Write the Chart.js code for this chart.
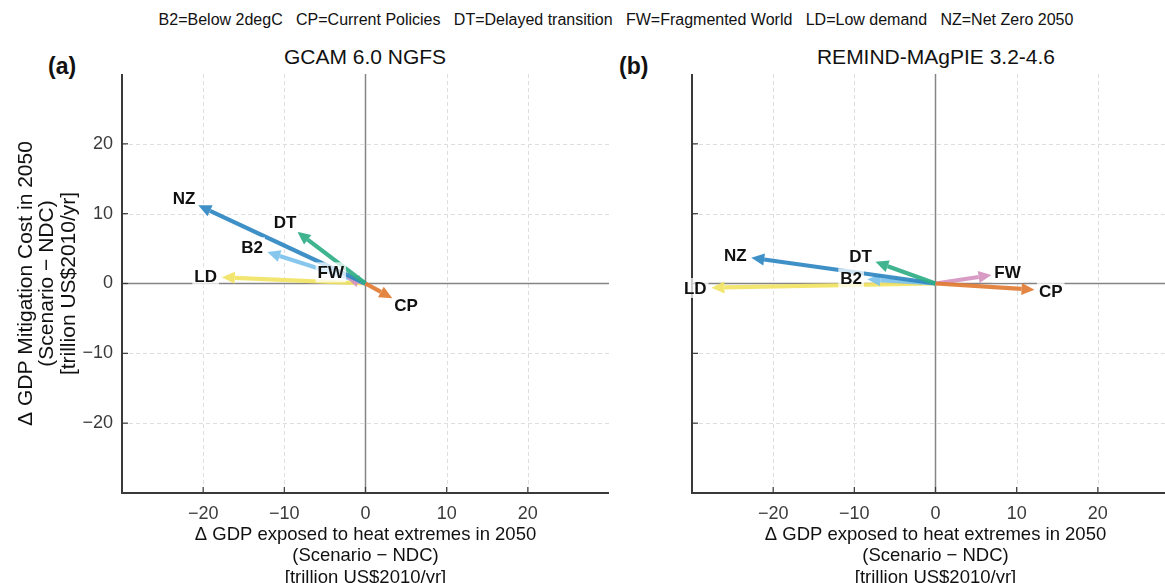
<!DOCTYPE html>
<html>
<head>
<meta charset="utf-8">
<script src="https://cdn.jsdelivr.net/npm/chart.js@4.4.1/dist/chart.umd.min.js"></script>
<style>
  html, body { margin: 0; padding: 0; background: #fff; overflow: hidden; }
  body { width: 1165px; height: 583px; position: relative; font-family: "Liberation Sans", Arial, sans-serif; }
  .panel { position: absolute; top: 0; width: 620px; height: 600px; }
  .txt { position: absolute; white-space: pre; color: #111; line-height: 1; }
  #legend { left: 0; width: 1232px; top: 12px; text-align: center; font-size: 16px; }
  .tag { font-weight: bold; font-size: 23px; top: 55px; }
  .ptitle { font-size: 21px; top: 46px; width: 400px; text-align: center; }
</style>
</head>
<body>
<div id="legend" class="txt">B2=Below 2degC   CP=Current Policies   DT=Delayed transition   FW=Fragmented World   LD=Low demand   NZ=Net Zero 2050</div>
<div class="txt tag" style="left:48px">(a)</div>
<div class="txt tag" style="left:619px">(b)</div>
<div class="txt ptitle" style="left:165px">GCAM 6.0 NGFS</div>
<div class="txt ptitle" style="left:736px">REMIND-MAgPIE 3.2-4.6</div>
<div class="panel" style="left:0px"><canvas id="chartA"></canvas></div>
<div class="panel" style="left:570px"><canvas id="chartB"></canvas></div>
<script>
// scenario order as listed in the legend line
const scenarios = ["B2", "CP", "DT", "FW", "LD", "NZ"];
const scenarioColors = ["#7ec2ec", "#e27c33", "#2fae86", "#d493bf", "#f1e464", "#2f87c1"];
// drawing order (later on top)
const drawOrder = ["LD", "B2", "FW", "NZ", "DT", "CP"];

// GCAM 6.0 NGFS: (Δ GDP exposed, Δ mitigation cost), trillion US$2010/yr
const gcamX = [-12.1, 3.3, -8.4, -2.4, -17.7, -20.6];
const gcamY = [4.5, -2.1, 7.4, 0.9, 0.9, 11.2];
// REMIND-MAgPIE 3.2-4.6
const remindX = [-8.4, 12.2, -7.4, 6.9, -27.6, -22.7];
const remindY = [0.6, -0.9, 3.1, 1.2, -0.6, 3.7];

const tickValues = [-20, -10, 0, 10, 20];
const axisMin = -30;
const axisMax = 30;

const xTitle = ["\u0394 GDP exposed to heat extremes in 2050", "(Scenario \u2212 NDC)", "[trillion US$2010/yr]"];
const yTitle = ["\u0394 GDP Mitigation Cost in 2050", "(Scenario \u2212 NDC)", "[trillion US$2010/yr]"];

const FONT = "'Liberation Sans', Arial, sans-serif";

function fmtTick(v) {
  return v < 0 ? "\u2212" + Math.abs(v) : String(v);
}

// grid, zero lines, spines and inward ticks
const framePlugin = {
  id: "frame",
  beforeDatasetsDraw(chart) {
    const { ctx, chartArea: a, scales: { x, y } } = chart;
    const line = (x1, y1, x2, y2) => {
      ctx.beginPath();
      ctx.moveTo(x1, y1);
      ctx.lineTo(x2, y2);
      ctx.stroke();
    };
    ctx.save();
    ctx.strokeStyle = "#dedede";
    ctx.lineWidth = 1;
    ctx.setLineDash([4, 3]);
    tickValues.forEach((v) => {
      if (v === 0) return;
      const px = Math.round(x.getPixelForValue(v)) + 0.5;
      const py = Math.round(y.getPixelForValue(v)) + 0.5;
      line(px, a.top, px, a.bottom);
      line(a.left, py, a.right, py);
    });
    ctx.setLineDash([]);
    ctx.strokeStyle = "#858585";
    ctx.lineWidth = 1.5;
    const x0 = x.getPixelForValue(0);
    const y0 = y.getPixelForValue(0);
    line(x0, a.top, x0, a.bottom);
    line(a.left, y0, a.right, y0);
    ctx.strokeStyle = "#3a3a3a";
    ctx.lineWidth = 2;
    line(a.left, a.top, a.left, a.bottom + 1);
    line(a.left - 1, a.bottom, a.right, a.bottom);
    ctx.lineWidth = 1.2;
    tickValues.forEach((v) => {
      const px = x.getPixelForValue(v);
      const py = y.getPixelForValue(v);
      line(px, a.bottom, px, a.bottom - 6);
      line(a.left, py, a.left + 6, py);
    });
    ctx.restore();
  },
  afterDatasetsDraw(chart) {
    const { ctx, scales: { x, y } } = chart;
    ctx.save();
    drawOrder.forEach((name) => {
      const i = scenarios.indexOf(name);
      const meta = chart.getDatasetMeta(i);
      const p0 = meta.data[0], p1 = meta.data[1];
      const dx = p1.x - p0.x, dy = p1.y - p0.y;
      const len = Math.hypot(dx, dy);
      const ux = dx / len, uy = dy / len;
      const headLen = 13, headHalf = 6;
      const bx = p1.x - ux * headLen, by = p1.y - uy * headLen;
      ctx.globalAlpha = 0.92;
      ctx.strokeStyle = scenarioColors[i];
      ctx.fillStyle = scenarioColors[i];
      ctx.lineWidth = 4.2;
      ctx.lineCap = "butt";
      ctx.beginPath();
      ctx.moveTo(p0.x, p0.y);
      ctx.lineTo(bx, by);
      ctx.stroke();
      ctx.beginPath();
      ctx.moveTo(p1.x, p1.y);
      ctx.lineTo(bx - uy * headHalf, by + ux * headHalf);
      ctx.lineTo(bx + uy * headHalf, by - ux * headHalf);
      ctx.closePath();
      ctx.fill();
    });
    // labels just beyond each arrow tip, with a light white box
    ctx.globalAlpha = 1;
    ctx.font = "bold 17px " + FONT;
    ctx.textAlign = "center";
    ctx.textBaseline = "middle";
    const ds = chart.data.datasets;
    drawOrder.forEach((name) => {
      const i = scenarios.indexOf(name);
      const tip = ds[i].data[1];
      const r = Math.hypot(tip.x, tip.y);
      const lx = x.getPixelForValue(tip.x + 2 * tip.x / r);
      const ly = y.getPixelForValue(tip.y + 2 * tip.y / r);
      const w = ctx.measureText(name).width;
      ctx.fillStyle = "rgba(255,255,255,0.75)";
      ctx.fillRect(lx - w / 2 - 2, ly - 10, w + 4, 20);
      ctx.fillStyle = "#111";
      ctx.fillText(name, lx, ly + 1);
    });
    ctx.restore();
  },
};

function makePanel(canvasId, xs, ys, showYLabels) {
  const datasets = scenarios.map((name, i) => ({
    label: name,
    data: [{ x: 0, y: 0 }, { x: xs[i], y: ys[i] }],
    borderColor: scenarioColors[i],
    backgroundColor: scenarioColors[i],
    pointRadius: 0,
    showLine: false,
  }));
  return new Chart(document.getElementById(canvasId), {
    type: "scatter",
    data: { datasets: datasets },
    options: {
      responsive: true,
      maintainAspectRatio: false,
      animation: false,
      events: [],
      layout: { padding: { top: 74, right: 11, left: 0, bottom: 0 } },
      plugins: { legend: { display: false }, tooltip: { enabled: false } },
      scales: {
        x: {
          type: "linear",
          min: axisMin,
          max: axisMax,
          afterBuildTicks: (s) => { s.ticks = tickValues.map((v) => ({ value: v })); },
          afterFit: (s) => { s.height = 107; },
          grid: { display: false, drawTicks: false },
          border: { display: false },
          ticks: {
            padding: 10,
            color: "#3a3a3a",
            font: { family: FONT, size: 18 },
            callback: (v) => fmtTick(v),
          },
          title: {
            display: true,
            text: xTitle,
            color: "#111",
            font: { family: FONT, size: 18.5, lineHeight: 1.14 },
            padding: { top: 0, bottom: 12 },
          },
        },
        y: {
          type: "linear",
          min: axisMin,
          max: axisMax,
          afterBuildTicks: (s) => { s.ticks = tickValues.map((v) => ({ value: v })); },
          afterFit: (s) => { s.width = 122; },
          grid: { display: false, drawTicks: false },
          border: { display: false },
          ticks: {
            display: showYLabels,
            padding: 9,
            color: "#3a3a3a",
            font: { family: FONT, size: 18 },
            callback: (v) => fmtTick(v),
          },
          title: {
            display: showYLabels,
            text: yTitle,
            color: "#111",
            font: { family: FONT, size: 21, lineHeight: 1.03 },
            padding: { top: 15, bottom: 0 },
          },
        },
      },
    },
    plugins: [framePlugin],
  });
}

makePanel("chartA", gcamX, gcamY, true);
makePanel("chartB", remindX, remindY, false);
</script>
</body>
</html>
